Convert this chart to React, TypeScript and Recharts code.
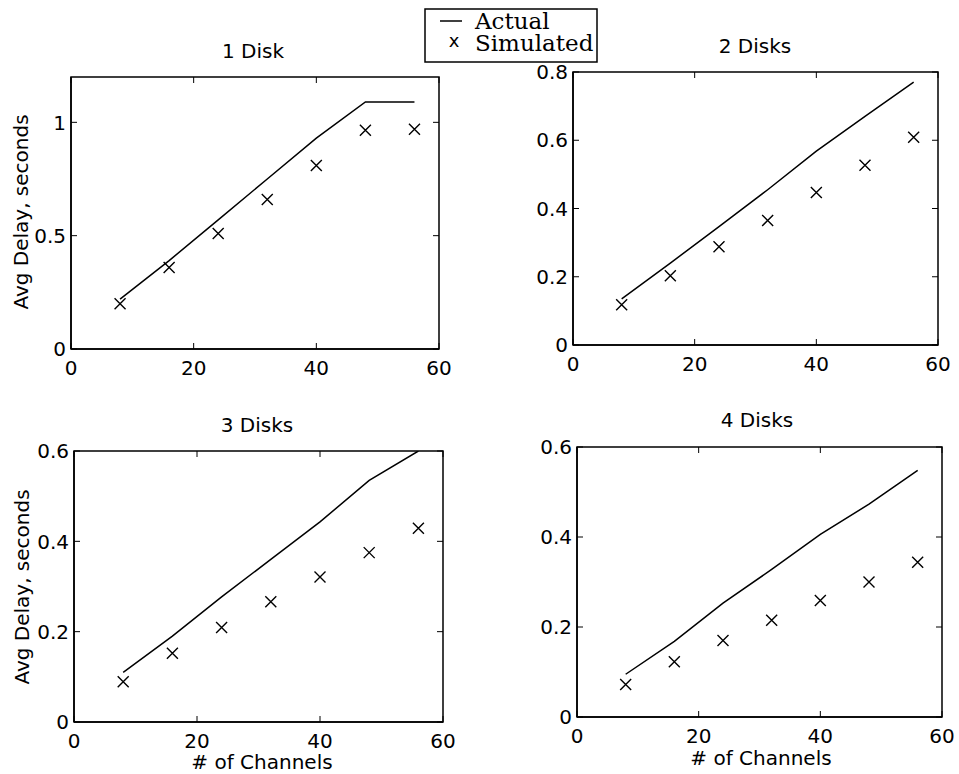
import React from 'react';
import { ComposedChart, Line, Scatter, XAxis, YAxis, ReferenceArea } from 'recharts';

const channels = [8, 16, 24, 32, 40, 48, 56];
const xTicks = [0, 20, 40, 60];

const actual1 = [0.22, 0.39, 0.57, 0.75, 0.93, 1.09, 1.09];
const sim1 = [0.2, 0.36, 0.51, 0.66, 0.81, 0.965, 0.97];
const yTicks1 = [0, 0.5, 1];

const actual2 = [0.135, 0.24, 0.347, 0.455, 0.568, 0.67, 0.77];
const sim2 = [0.118, 0.203, 0.288, 0.365, 0.447, 0.527, 0.609];
const yTicks2 = [0, 0.2, 0.4, 0.6, 0.8];

const actual3 = [0.11, 0.19, 0.277, 0.36, 0.443, 0.535, 0.6];
const sim3 = [0.089, 0.152, 0.209, 0.266, 0.321, 0.375, 0.429];
const yTicks3 = [0, 0.2, 0.4, 0.6];

const actual4 = [0.095, 0.168, 0.253, 0.328, 0.406, 0.473, 0.548];
const sim4 = [0.072, 0.123, 0.17, 0.215, 0.259, 0.3, 0.344];
const yTicks4 = [0, 0.2, 0.4, 0.6];

const SANS = '"DejaVu Sans", Arial, sans-serif';
const SERIF = '"DejaVu Serif", "Liberation Serif", serif';
const TICK_LEN = 6;
const XM = 11; // gap between x axis and tick label top
const YM = 5; // gap between y axis and tick label end

const XMark = (props: any) => {
  const { cx, cy } = props;
  if (cx == null || cy == null) return null;
  const s = 5.5;
  return (
    <path
      d={`M${cx - s},${cy - s}L${cx + s},${cy + s}M${cx + s},${cy - s}L${cx - s},${cy + s}`}
      stroke="#000"
      strokeWidth={1.4}
      fill="none"
    />
  );
};

const makeXTick = (plotH: number) => (props: any) => {
  const { x, y, payload } = props;
  const axisY = y - XM;
  return (
    <g>
      <line x1={x} y1={axisY} x2={x} y2={axisY - TICK_LEN} stroke="#000" strokeWidth={1} />
      <line x1={x} y1={axisY - plotH} x2={x} y2={axisY - plotH + TICK_LEN} stroke="#000" strokeWidth={1} />
      <text x={x} y={y} dy="0.76em" textAnchor="middle" fontFamily={SANS} fontSize={20} fill="#000">
        {String(payload.value)}
      </text>
    </g>
  );
};

const makeYTick = (plotW: number) => (props: any) => {
  const { x, y, payload } = props;
  const axisX = x + YM;
  return (
    <g>
      <line x1={axisX} y1={y} x2={axisX + TICK_LEN} y2={y} stroke="#000" strokeWidth={1} />
      <line x1={axisX + plotW} y1={y} x2={axisX + plotW - TICK_LEN} y2={y} stroke="#000" strokeWidth={1} />
      <text x={x} y={y} dy="0.36em" textAnchor="end" fontFamily={SANS} fontSize={20} fill="#000">
        {String(payload.value)}
      </text>
    </g>
  );
};

type Box = { l: number; t: number; r: number; b: number };

function Panel({ box, actual, sim, yMax, yTicks }: { box: Box; actual: number[]; sim: number[]; yMax: number; yTicks: number[] }) {
  const data = channels.map((c, i) => ({ x: c, actual: actual[i], sim: sim[i] }));
  const yw = 60;
  const mt = 20;
  const mr = 25;
  const xh = 40;
  const left = box.l - yw;
  const top = box.t - mt;
  const width = box.r - left + mr;
  const height = box.b - top + xh;
  const plotW = box.r - box.l;
  const plotH = box.b - box.t;
  const axisLine = { stroke: '#000', strokeWidth: 1.5 };
  return (
    <div style={{ position: 'absolute', left, top, width, height }}>
      <ComposedChart width={width} height={height} data={data} margin={{ top: mt, right: mr, bottom: 0, left: 0 }}>
        <XAxis
          type="number"
          dataKey="x"
          domain={[0, 60]}
          ticks={xTicks}
          height={xh}
          tick={makeXTick(plotH)}
          axisLine={axisLine}
          tickLine={false}
          tickSize={0}
          tickMargin={XM}
          interval={0}
        />
        <YAxis
          type="number"
          domain={[0, yMax]}
          ticks={yTicks}
          width={yw}
          tick={makeYTick(plotW)}
          axisLine={axisLine}
          tickLine={false}
          tickSize={0}
          tickMargin={YM}
          interval={0}
          allowDataOverflow
        />
        <ReferenceArea
          x1={0}
          x2={60}
          y1={0}
          y2={yMax}
          fill="#fff"
          fillOpacity={0}
          stroke="#000"
          strokeWidth={1.5}
          ifOverflow="visible"
        />
        <Line
          type="linear"
          dataKey="actual"
          stroke="#000"
          strokeWidth={1.5}
          dot={false}
          activeDot={false}
          isAnimationActive={false}
        />
        <Scatter dataKey="sim" shape={XMark} isAnimationActive={false} />
      </ComposedChart>
    </div>
  );
}

export default function App() {
  return (
    <div style={{ position: 'absolute', left: 0, top: 0, width: 959, height: 774, background: '#fff', overflow: 'hidden' }}>
      <Panel box={{ l: 71, t: 77, r: 439, b: 349 }} actual={actual1} sim={sim1} yMax={1.2} yTicks={yTicks1} />
      <Panel box={{ l: 573, t: 72, r: 938, b: 345 }} actual={actual2} sim={sim2} yMax={0.8} yTicks={yTicks2} />
      <Panel box={{ l: 74, t: 451, r: 443, b: 722 }} actual={actual3} sim={sim3} yMax={0.6} yTicks={yTicks3} />
      <Panel box={{ l: 577, t: 447, r: 942, b: 717 }} actual={actual4} sim={sim4} yMax={0.6} yTicks={yTicks4} />
      <svg width={959} height={774} style={{ position: 'absolute', left: 0, top: 0, pointerEvents: 'none' }}>
        <g fontFamily={SANS} fontSize={20} fill="#000" textAnchor="middle">
          <text x={253} y={58}>1 Disk</text>
          <text x={755} y={53}>2 Disks</text>
          <text x={257} y={432}>3 Disks</text>
          <text x={757} y={427}>4 Disks</text>
          <text transform="translate(28,212) rotate(-90)">Avg Delay, seconds</text>
          <text transform="translate(29,587) rotate(-90)">Avg Delay, seconds</text>
          <text x={262} y={769}># of Channels</text>
          <text x={761} y={765}># of Channels</text>
        </g>
        <rect x={425} y={9} width={172} height={53} fill="#fff" stroke="#000" strokeWidth={1.5} />
        <line x1={440} y1={21} x2={462} y2={21} stroke="#000" strokeWidth={1.5} />
        <text x={454} y={47} fontFamily={SANS} fontSize={18} textAnchor="middle" fill="#000">x</text>
        <text x={475} y={29} fontFamily={SERIF} fontSize={23} fill="#000">Actual</text>
        <text x={475} y={51} fontFamily={SERIF} fontSize={23} fill="#000">Simulated</text>
      </svg>
    </div>
  );
}
